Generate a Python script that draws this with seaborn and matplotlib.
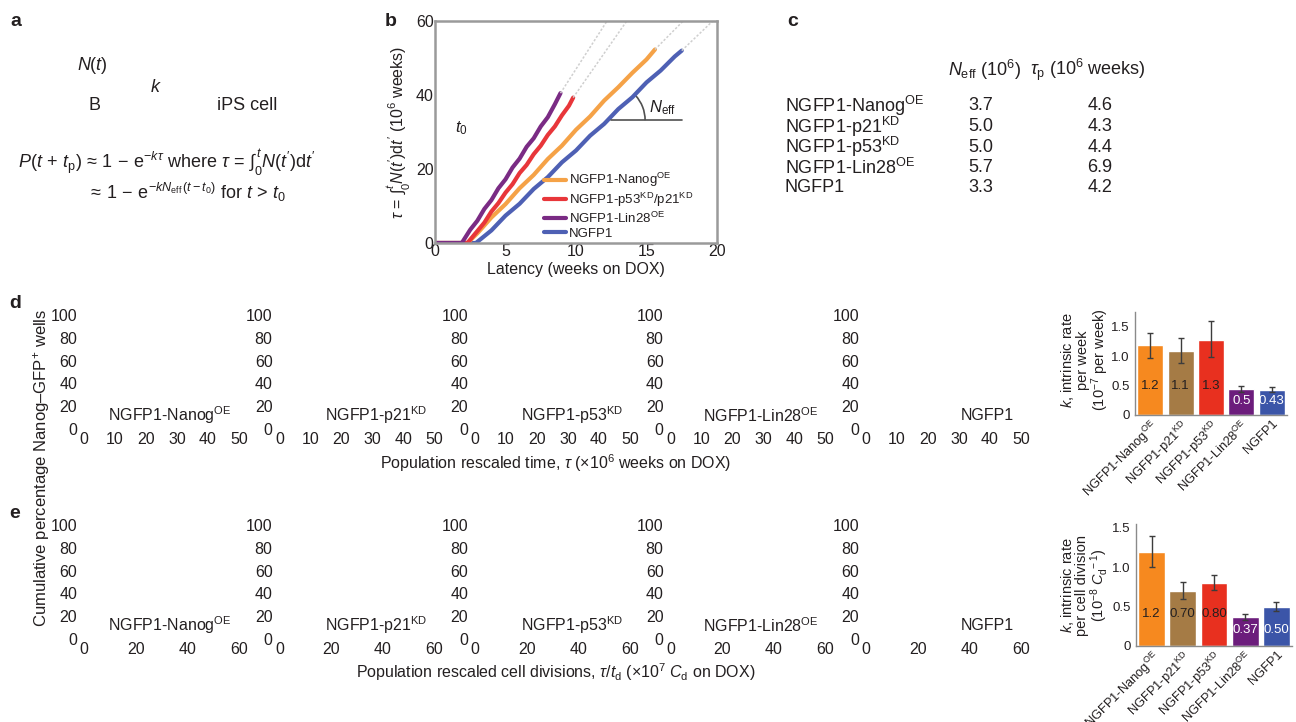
import numpy as np
import pandas as pd
import matplotlib
matplotlib.use('Agg')
import matplotlib.pyplot as plt
from matplotlib.patches import Arc
import seaborn as sns

W, H = 1296, 722

# ---- data ----
NANOG = r'NGFP1-Nanog$^{\mathrm{OE}}$'
P21 = r'NGFP1-p21$^{\mathrm{KD}}$'
P53 = r'NGFP1-p53$^{\mathrm{KD}}$'
LIN28 = r'NGFP1-Lin28$^{\mathrm{OE}}$'
NGFP1 = 'NGFP1'
P53P21 = r'NGFP1-p53$^{\mathrm{KD}}$/p21$^{\mathrm{KD}}$'

# panel b: tau vs latency
lin28_x = [0, 1.9, 2.5, 3.0, 3.5, 4.0, 4.5, 5.0, 5.5, 6.0, 6.5, 7.0, 7.5, 8.0, 8.5, 8.9]
lin28_y = [0, 0, 3.6, 6.0, 9.2, 11.6, 14.8, 17.2, 20.4, 22.8, 26.0, 28.3, 31.5, 34.0, 37.5, 40.5]
p53p21_x = [0, 2.3, 3.0, 3.5, 4.0, 4.5, 5.0, 5.5, 6.0, 6.5, 7.0, 7.5, 8.0, 8.5, 9.0, 9.5, 9.8]
p53p21_y = [0, 0, 3.2, 5.5, 8.5, 10.8, 13.6, 15.9, 18.9, 21.1, 24.0, 26.3, 29.2, 31.5, 34.5, 37.1, 39.3]
nanog_x = [0, 2.3, 3, 4, 5, 6, 7, 8, 9, 10, 11, 12, 13, 14, 15, 15.6]
nanog_y = [0, 0, 2.6, 6.9, 10.5, 14.8, 18.4, 22.7, 26.3, 30.6, 34.2, 38.5, 42.1, 46.0, 49.6, 52.3]
ngfp1_x = [0, 2.9, 4, 5, 6, 7, 8, 9, 10, 11, 12, 13, 14, 15, 16, 17, 17.5]
ngfp1_y = [0, 0, 3.4, 7.4, 10.6, 14.6, 17.8, 21.8, 25.0, 29.0, 32.2, 36.2, 39.4, 43.4, 46.6, 50.4, 52.0]
# fitted lines continued past the data (start x, start y, end x, end y)
fit_x0 = [8.9, 9.8, 15.6, 17.5]
fit_y0 = [40.5, 39.3, 52.3, 52.0]
fit_x1 = [12.2, 13.6, 17.6, 19.7]
fit_y1 = [60, 60, 60, 60]

# panel c table
table_names = [NANOG, P21, P53, LIN28, NGFP1]
n_eff = ['3.7', '5.0', '5.0', '5.7', '3.3']
tau_p = ['4.6', '4.3', '4.4', '6.9', '4.2']

# panels d/e bars
bar_names = [NANOG, P21, P53, LIN28, NGFP1]
bar_colors = ['#f6891f', '#a57b45', '#e8301f', '#6c1d7c', '#3b55a8']
kw_val = np.array([1.19, 1.08, 1.28, 0.44, 0.43])
kw_lo = np.array([0.97, 0.89, 0.99, 0.39, 0.39])
kw_hi = np.array([1.40, 1.30, 1.59, 0.50, 0.47])
kw_txt = ['1.2', '1.1', '1.3', '0.5', '0.43']
kc_val = np.array([1.20, 0.70, 0.80, 0.37, 0.49])
kc_lo = np.array([1.00, 0.60, 0.71, 0.33, 0.45])
kc_hi = np.array([1.40, 0.81, 0.90, 0.41, 0.56])
kc_txt = ['1.2', '0.70', '0.80', '0.37', '0.50']

small_names = [NANOG, P21, P53, LIN28, NGFP1]
pct_ticks = [0, 20, 40, 60, 80, 100]
d_xticks = [0, 10, 20, 30, 40, 50]
e_xticks = [0, 20, 40, 60]

# ---- style ----
sns.set_style('white')
plt.rcParams['font.family'] = ['Liberation Sans', 'DejaVu Sans']
plt.rcParams['mathtext.fontset'] = 'custom'
plt.rcParams['mathtext.rm'] = 'Liberation Sans'
plt.rcParams['mathtext.it'] = 'Liberation Sans:italic'
plt.rcParams['mathtext.bf'] = 'Liberation Sans:bold'
TXT = '#231f20'
plt.rcParams['text.color'] = TXT
plt.rcParams['xtick.color'] = TXT
plt.rcParams['ytick.color'] = TXT
plt.rcParams['axes.labelcolor'] = TXT

fig = plt.figure(figsize=(W / 100, H / 100), dpi=100)


def add_ax(l, t, r, b):
    return fig.add_axes([l / W, 1 - b / H, (r - l) / W, (b - t) / H])


def ftext(x, y, s, **kw):
    fig.text(x / W, 1 - y / H, s, **kw)


# panel letters
for letter, (x, y) in zip('abcde', [(10, 22), (385, 22), (787, 22), (9, 303), (9, 513)]):
    ftext(x, y, letter, fontsize=14, fontweight='bold', va='center')

# ---- panel a ----
ftext(77, 65, r'$N(t)$', fontsize=13, va='center')
ftext(150, 88, r'$k$', fontsize=13, va='center')
ftext(88, 105, 'B', fontsize=13, va='center')
ftext(217, 105, 'iPS cell', fontsize=13, va='center')
ftext(18, 163, r"$P(t\,+\,t_{\mathrm{p}})\,\approx\,1\,-\,\mathrm{e}^{-k\tau}$ where $\tau\,=\,\int_0^t N(t')\mathrm{d}t'$",
      fontsize=13, va='center')
ftext(88, 192, r'$\approx\,1\,-\,\mathrm{e}^{-kN_{\mathrm{eff}}\,(t-t_0)}$ for $t\,>\,t_0$', fontsize=13, va='center')

# ---- panel b ----
axb = add_ax(435, 21, 717, 243)
series = [(ngfp1_x, ngfp1_y, '#4e60b4', NGFP1), (nanog_x, nanog_y, '#f5a247', NANOG),
          (p53p21_x, p53p21_y, '#e8363a', P53P21), (lin28_x, lin28_y, '#7a2b84', LIN28)]
for xs, ys, col, lab in series:
    sns.lineplot(x=xs, y=ys, color=col, lw=3, label=lab, ax=axb)
for x0, y0, x1, y1 in zip(fit_x0, fit_y0, fit_x1, fit_y1):
    axb.plot([x0, x1], [y0, y1], color='#cfcfcf', lw=1.1, ls=(0, (1.5, 1.2)))
axb.set_xlim(0, 20)
axb.set_ylim(0, 60)
axb.set_xticks([0, 5, 10, 15, 20])
axb.set_yticks([0, 20, 40, 60])
axb.tick_params(length=0, labelsize=11.5, pad=1)
for sp in axb.spines.values():
    sp.set_color('#9a9a9a')
    sp.set_linewidth(1.8)
axb.set_xlabel('Latency (weeks on DOX)', fontsize=11.5, labelpad=2)
axb.set_ylabel(r"$\tau\,=\,\int_0^t N(t')\mathrm{d}t'$ (10$^{6}$ weeks)", fontsize=11.5, labelpad=2)
axb.plot([12.5, 17.5], [33.2, 33.2], color='#505050', lw=1.2)
axb.add_patch(Arc((12.3, 33.2), width=5.2, height=19.8, theta1=0, theta2=74, color='#505050', lw=1.2))
axb.text(15.2, 36.5, r'$N_{\mathrm{eff}}$', fontsize=12, va='center')
axb.text(1.4, 31, r'$t_0$', fontsize=12, va='center')
h, l = axb.get_legend_handles_labels()
order = [1, 2, 3, 0]
axb.legend([h[i] for i in order], [l[i] for i in order], loc='center left',
           bbox_to_anchor=(0.385, 0.17), frameon=False, fontsize=9.5, handlelength=1.7,
           handletextpad=0.25, labelspacing=0.12, borderpad=0, borderaxespad=0)

# ---- panel c ----
ftext(948, 70, r'$N_{\mathrm{eff}}$ (10$^{6}$)', fontsize=13, va='center')
ftext(1030, 70, r'$\tau_{\mathrm{p}}$ (10$^{6}$ weeks)', fontsize=13, va='center')
for i, (nm, a, b) in enumerate(zip(table_names, n_eff, tau_p)):
    y = 106 + i * 20.5
    ftext(785, y, nm, fontsize=13, va='center')
    ftext(981, y, a, fontsize=13, va='center', ha='center')
    ftext(1100, y, b, fontsize=13, va='center', ha='center')

# ---- panels d, e small multiples ----
rows = [(315, 429, 50, d_xticks), (525, 639, 60, e_xticks)]
for top, bot, xmax, xt in rows:
    for i, nm in enumerate(small_names):
        left = 84 + i * 195.5
        ax = add_ax(left, top, left + 155, bot)
        ax.set_xlim(0, xmax)
        ax.set_ylim(0, 100)
        ax.set_xticks(xt)
        ax.set_yticks(pct_ticks)
        sns.despine(ax=ax, left=True, bottom=True)
        ax.tick_params(length=0, labelsize=11.5, pad=2)
        ax.tick_params(axis='y', pad=5)
        ax.text(0.955, 0.12, nm, transform=ax.transAxes, ha='right', va='center', fontsize=11.5)

ftext(556, 463, r'Population rescaled time, $\tau$ ($\times$10$^{6}$ weeks on DOX)', fontsize=11.5,
      ha='center', va='center')
ftext(556, 672, r'Population rescaled cell divisions, $\tau$/$t_{\mathrm{d}}$ ($\times$10$^{7}$ $C_{\mathrm{d}}$ on DOX)',
      fontsize=11.5, ha='center', va='center')
ftext(42, 468, r'Cumulative percentage Nanog–GFP$^{+}$ wells', fontsize=12, rotation=90,
      ha='center', va='center')


# ---- bar charts ----
def bar_panel(rect, vals, lo, hi, txt, ymax, dark_y, light_y, ylab, ylab_pos):
    ax = add_ax(*rect)
    df = pd.DataFrame({'line': bar_names, 'k': vals})
    sns.barplot(data=df, x='line', y='k', hue='line', palette=bar_colors, legend=False,
                errorbar=None, saturation=1, width=0.86, ax=ax)
    ax.errorbar(range(len(vals)), vals, yerr=[vals - lo, hi - vals], fmt='none',
                ecolor='#3c3c3c', elinewidth=1, capsize=2, capthick=1)
    for i, s in enumerate(txt):
        white = vals[i] < 0.6
        ax.text(i, light_y if white else dark_y, s, ha='center', va='center', fontsize=9.5,
                color='white' if white else TXT)
    ax.set_xlim(-0.5, 4.5)
    ax.set_ylim(0, ymax)
    ax.set_yticks([0, 0.5, 1.0, 1.5])
    ax.set_yticklabels(['0', '0.5', '1.0', '1.5'])
    ax.set_xlabel('')
    ax.set_ylabel('')
    sns.despine(ax=ax)
    for sp in ['left', 'bottom']:
        ax.spines[sp].set_color('#8a8a8a')
        ax.spines[sp].set_linewidth(1)
    ax.tick_params(axis='y', length=3, width=0.8, color='#8a8a8a', labelsize=9.5, pad=1)
    ax.tick_params(axis='x', length=0, labelsize=9.3, pad=2)
    plt.setp(ax.get_xticklabels(), rotation=45, ha='right', rotation_mode='anchor')
    ftext(ylab_pos[0], ylab_pos[1], ylab, fontsize=10.5, rotation=90, ha='center', va='center',
          multialignment='center', linespacing=0.95)


bar_panel((1135, 312, 1287, 415), kw_val, kw_lo, kw_hi, kw_txt, 1.75, 0.5, 0.23,
          '$k$, intrinsic rate\nper week\n(10$^{-7}$ per week)', (1085, 360))
bar_panel((1136, 524, 1292, 646), kc_val, kc_lo, kc_hi, kc_txt, 1.55, 0.41, 0.2,
          '$k$, intrinsic rate\nper cell division\n(10$^{-8}$ $C_{\\mathrm{d}}^{\\ -1}$)', (1085, 585))

fig.savefig('out.png', dpi=100)
